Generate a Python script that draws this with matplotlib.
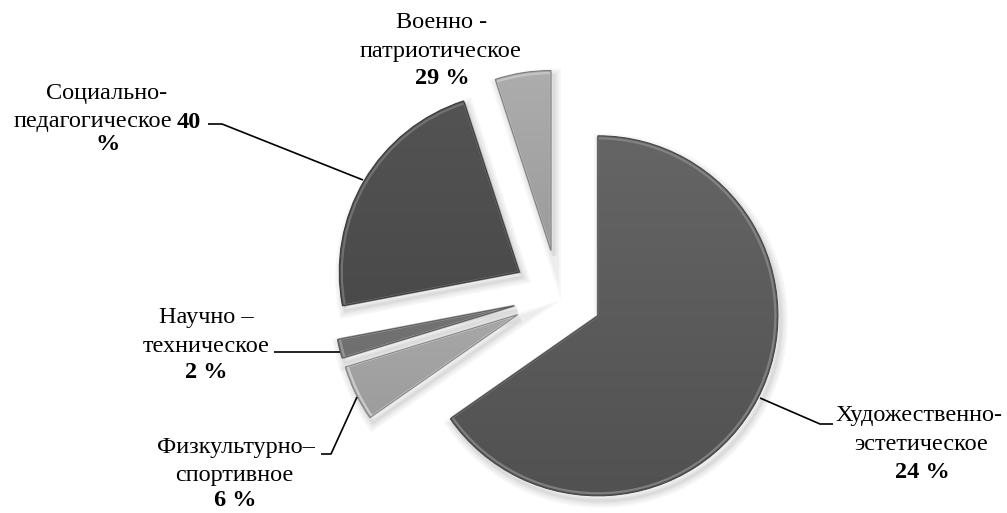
import numpy as np
import matplotlib.pyplot as plt
from matplotlib.patches import Wedge
from matplotlib.colors import to_rgb
from matplotlib.font_manager import FontProperties

# slice sizes as drawn (the printed percentages do not match the geometry)
names = ["Художественно-эстетическое", "Физкультурно-спортивное", "Научно-техническое",
         "Социально-педагогическое", "Военно-патриотическое"]
shares = [65.3, 5.0, 1.7, 23.0, 5.0]
pct_labels = ["24 %", "6 %", "2 %", "40 %", "29 %"]
colors = ["#5c5c5c", "#a9a9a9", "#747474", "#4c4c4c", "#9d9d9d"]

fdir = "/usr/share/fonts/truetype/liberation/"
fs = 17.5
reg = FontProperties(fname=fdir + "LiberationSerif-Regular.ttf", size=fs)
bld = FontProperties(fname=fdir + "LiberationSerif-Bold.ttf", size=fs)

W, H = 1007, 513
fig = plt.figure(figsize=(W / 100, H / 100), dpi=100)
ax = fig.add_axes([0, 0, 1, 1])

wedges, _ = ax.pie(shares, colors=colors, startangle=90, counterclock=False,
                   radius=180, center=(558, H - 295), explode=[45] * len(shares),
                   wedgeprops=dict(linewidth=0))

# soft drop shadow, gradient fill and bevel highlight for each slice
for w, c in zip(wedges, colors):
    cx, cy = w.center
    for lw in [10, 7, 4, 2]:
        sh = Wedge((cx + 3, cy - 5), w.r, w.theta1, w.theta2, facecolor="none",
                   edgecolor=(0, 0, 0, 0.035), linewidth=lw, zorder=0.5)
        ax.add_patch(sh)
    base = np.array(to_rgb(c))
    t = np.linspace(0, 1, 256)[:, None]
    grad = np.clip(base * (1.10 - 0.22 * t), 0, 1)
    img = np.repeat(grad[:, None, :], 2, axis=1)
    im = ax.imshow(img, extent=(cx - w.r, cx + w.r, cy - w.r, cy + w.r),
                   origin="upper", zorder=2, interpolation="bilinear")
    im.set_clip_path(w)
    hl = Wedge((cx, cy), w.r - 2.5, w.theta1, w.theta2,
               facecolor="none", edgecolor=tuple(np.clip(base + 0.18, 0, 1)),
               linewidth=1.6, alpha=0.8, zorder=3)
    ax.add_patch(hl)
    ax.add_patch(Wedge((cx, cy), w.r, w.theta1, w.theta2, facecolor="none",
                       edgecolor=tuple(base * 0.8), linewidth=0.8, zorder=3))

ax.set_xlim(0, W)
ax.set_ylim(0, H)
ax.set_aspect("equal")
ax.axis("off")


def put(x, y, s, bold=False, ha="center"):
    ax.text(x, H - y, s, ha=ha, va="center", fontproperties=bld if bold else reg,
            zorder=5)


def leader(pts):
    xs = [p[0] for p in pts]
    ys = [H - p[1] for p in pts]
    ax.plot(xs, ys, color="black", lw=1.2, zorder=4, solid_capstyle="butt")


# Военно-патриотическое
put(442, 22, "Военно -")
put(441, 52, "патриотическое")
put(442, 79, pct_labels[4], bold=True)

# Социально-педагогическое
put(107, 93, "Социально-")
put(172, 122, "педагогическое", ha="right")
put(177, 122, pct_labels[3].split()[0], bold=True, ha="left")
put(108, 145, "%", bold=True)
leader([(208, 124), (222, 124), (363, 180)])

# Научно-техническое
put(206, 318, "Научно –")
put(206, 347, "техническое")
put(206, 372, pct_labels[2], bold=True)
leader([(274, 352), (340, 352)])

# Физкультурно-спортивное
put(236, 447, "Физкультурно–")
put(234, 475, "спортивное")
put(235, 500, pct_labels[1], bold=True)
leader([(321, 454), (331, 454), (357, 397)])

# Художественно-эстетическое
put(919, 415, "Художественно-")
put(921, 445, "эстетическое")
put(922, 473, pct_labels[0], bold=True)
leader([(760, 398), (820, 424), (833, 424)])

fig.savefig("out.png", dpi=100, facecolor="white")
